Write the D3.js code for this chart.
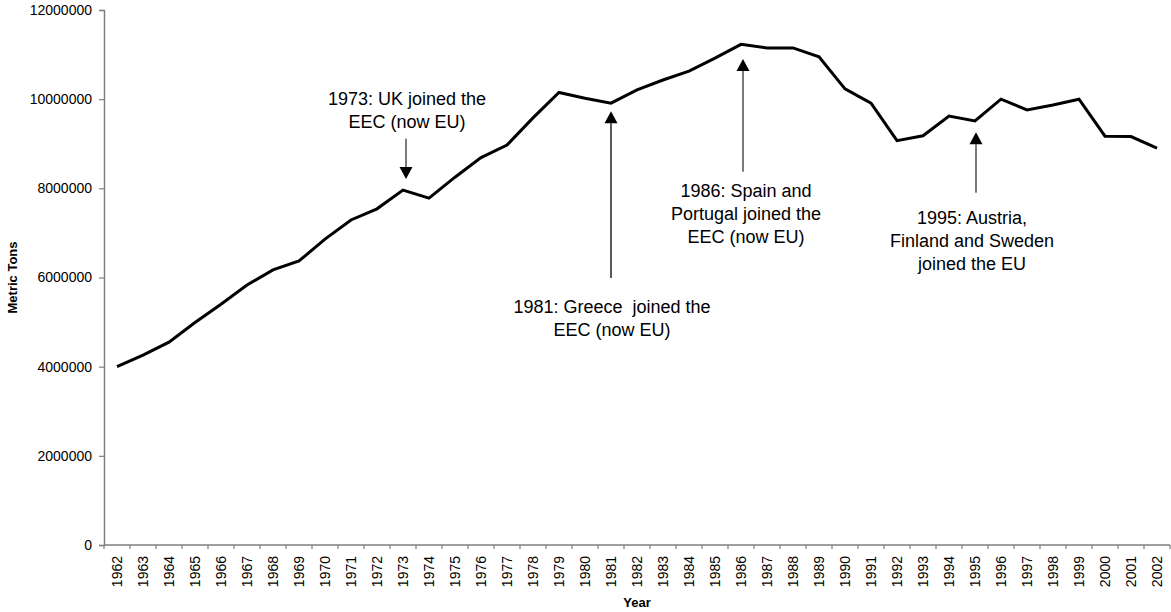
<!DOCTYPE html>
<html>
<head>
<meta charset="utf-8">
<script src="https://cdn.jsdelivr.net/npm/d3@7"></script>
<style>
  html, body { margin: 0; padding: 0; background: #fff; }
  svg { display: block; font-family: "Liberation Sans", Arial, sans-serif; }
</style>
</head>
<body>
<svg id="chart" width="1171" height="612"></svg>
<script>
// ---- data ----
const years = [1962,1963,1964,1965,1966,1967,1968,1969,1970,1971,1972,1973,1974,1975,1976,1977,1978,1979,1980,1981,
               1982,1983,1984,1985,1986,1987,1988,1989,1990,1991,1992,1993,1994,1995,1996,1997,1998,1999,2000,2001,2002];
const tons = [4000000,4260000,4550000,4990000,5400000,5830000,6170000,6370000,6860000,7290000,
              7540000,7960000,7780000,8250000,8690000,8970000,9580000,10150000,10020000,9910000,
              10210000,10430000,10630000,10920000,11230000,11150000,11150000,10950000,10230000,9910000,
              9070000,9180000,9620000,9510000,10000000,9760000,9870000,10000000,9170000,9160000,8900000];
const yTicks = [0,2000000,4000000,6000000,8000000,10000000,12000000];
const xTitle = "Year";
const yTitle = "Metric Tons";

// annotations: year pointed at, arrow tip / tail and first text baseline in data units
const annYears   = [1973, 1981, 1986, 1995];
const annTip     = [8210000, 9730000, 10900000, 9260000];
const annTail    = [9110000, 5990000, 8370000, 7900000];
const annTextTop = [9860000, 5200000, 7810000, 7190000];
const annLines = [
  ["1973: UK joined the", "EEC (now EU)"],
  ["1981: Greece\u00a0 joined the", "EEC (now EU)"],
  ["1986: Spain and", "Portugal joined the", "EEC (now EU)"],
  ["1995: Austria,", "Finland and Sweden", "joined the EU"]
];
const annDx = [3, 0, 2, 1];
const annTextDx = [1, 1, 3, -4];

// ---- layout ----
const L = 104, R = 1170, T = 10, B = 545;
const svg = d3.select("#chart");

const x = d3.scaleBand().domain(years).range([L, R]).padding(0);
const y = d3.scaleLinear().domain([0, 12000000]).range([B, T]);
const xc = d => x(d) + x.bandwidth() / 2;

// y axis
const yAxis = d3.axisLeft(y).tickValues(yTicks).tickSize(5).tickPadding(7).tickFormat(d3.format("d"));
const gy = svg.append("g").attr("transform", `translate(${L},0)`).call(yAxis);
gy.select(".domain").attr("stroke", "#7f7f7f").attr("stroke-width", 1.5);
gy.selectAll(".tick line").attr("stroke", "#7f7f7f").attr("stroke-width", 1.2);
gy.selectAll(".tick text").attr("font-size", 14).attr("fill", "#000")
  .attr("font-family", "Liberation Sans, Arial, sans-serif");

// x axis: line, ticks at band boundaries, labels at centres
const gx = svg.append("g");
gx.append("line").attr("x1", L).attr("x2", R).attr("y1", B).attr("y2", B)
  .attr("stroke", "#7f7f7f").attr("stroke-width", 1.5);
const bounds = years.map(d => x(d)).concat([x(years[years.length - 1]) + x.bandwidth()]);
gx.selectAll("line.tk").data(bounds).enter().append("line").attr("class", "tk")
  .attr("x1", d => d).attr("x2", d => d).attr("y1", B).attr("y2", B + 4)
  .attr("stroke", "#7f7f7f").attr("stroke-width", 1.2);
gx.selectAll("text.lbl").data(years).enter().append("text").attr("class", "lbl")
  .attr("transform", d => `translate(${xc(d)},${B + 11}) rotate(-90)`)
  .attr("text-anchor", "end").attr("dy", "0.35em")
  .attr("font-size", 14).attr("fill", "#000").text(d => d);

// axis titles
svg.append("text").attr("x", (L + R) / 2).attr("y", 607).attr("text-anchor", "middle")
  .attr("font-size", 13).attr("font-weight", "bold").text(xTitle);
svg.append("text").attr("transform", `translate(17,${(T + B) / 2}) rotate(-90)`)
  .attr("text-anchor", "middle").attr("font-size", 13).attr("font-weight", "bold").text(yTitle);

// line
const line = d3.line().x((d, i) => xc(years[i])).y(d => y(d));
svg.append("path").datum(tons).attr("d", line)
  .attr("fill", "none").attr("stroke", "#000").attr("stroke-width", 3)
  .attr("stroke-linejoin", "miter").attr("stroke-linecap", "butt");

// annotations
annYears.forEach((yr, i) => {
  const ax = xc(yr) + annDx[i];
  const tipY = y(annTip[i]), tailY = y(annTail[i]);
  const dir = tipY > tailY ? 1 : -1; // 1: arrow points down
  const headLen = 12, headHalf = 6.5;
  const g = svg.append("g");
  g.append("line").attr("x1", ax).attr("x2", ax)
    .attr("y1", tailY).attr("y2", tipY - dir * headLen)
    .attr("stroke", i === 1 ? "#000" : "#333").attr("stroke-width", 1.3);
  g.append("path")
    .attr("d", `M${ax},${tipY} L${ax - headHalf},${tipY - dir * headLen} L${ax + headHalf},${tipY - dir * headLen} Z`)
    .attr("fill", "#000");
  const t = g.append("text").attr("text-anchor", "middle").attr("font-size", 18).attr("fill", "#000");
  annLines[i].forEach((s, k) => {
    t.append("tspan").attr("x", ax + annTextDx[i]).attr("y", y(annTextTop[i]) + k * 23).text(s);
  });
});
</script>
</body>
</html>
